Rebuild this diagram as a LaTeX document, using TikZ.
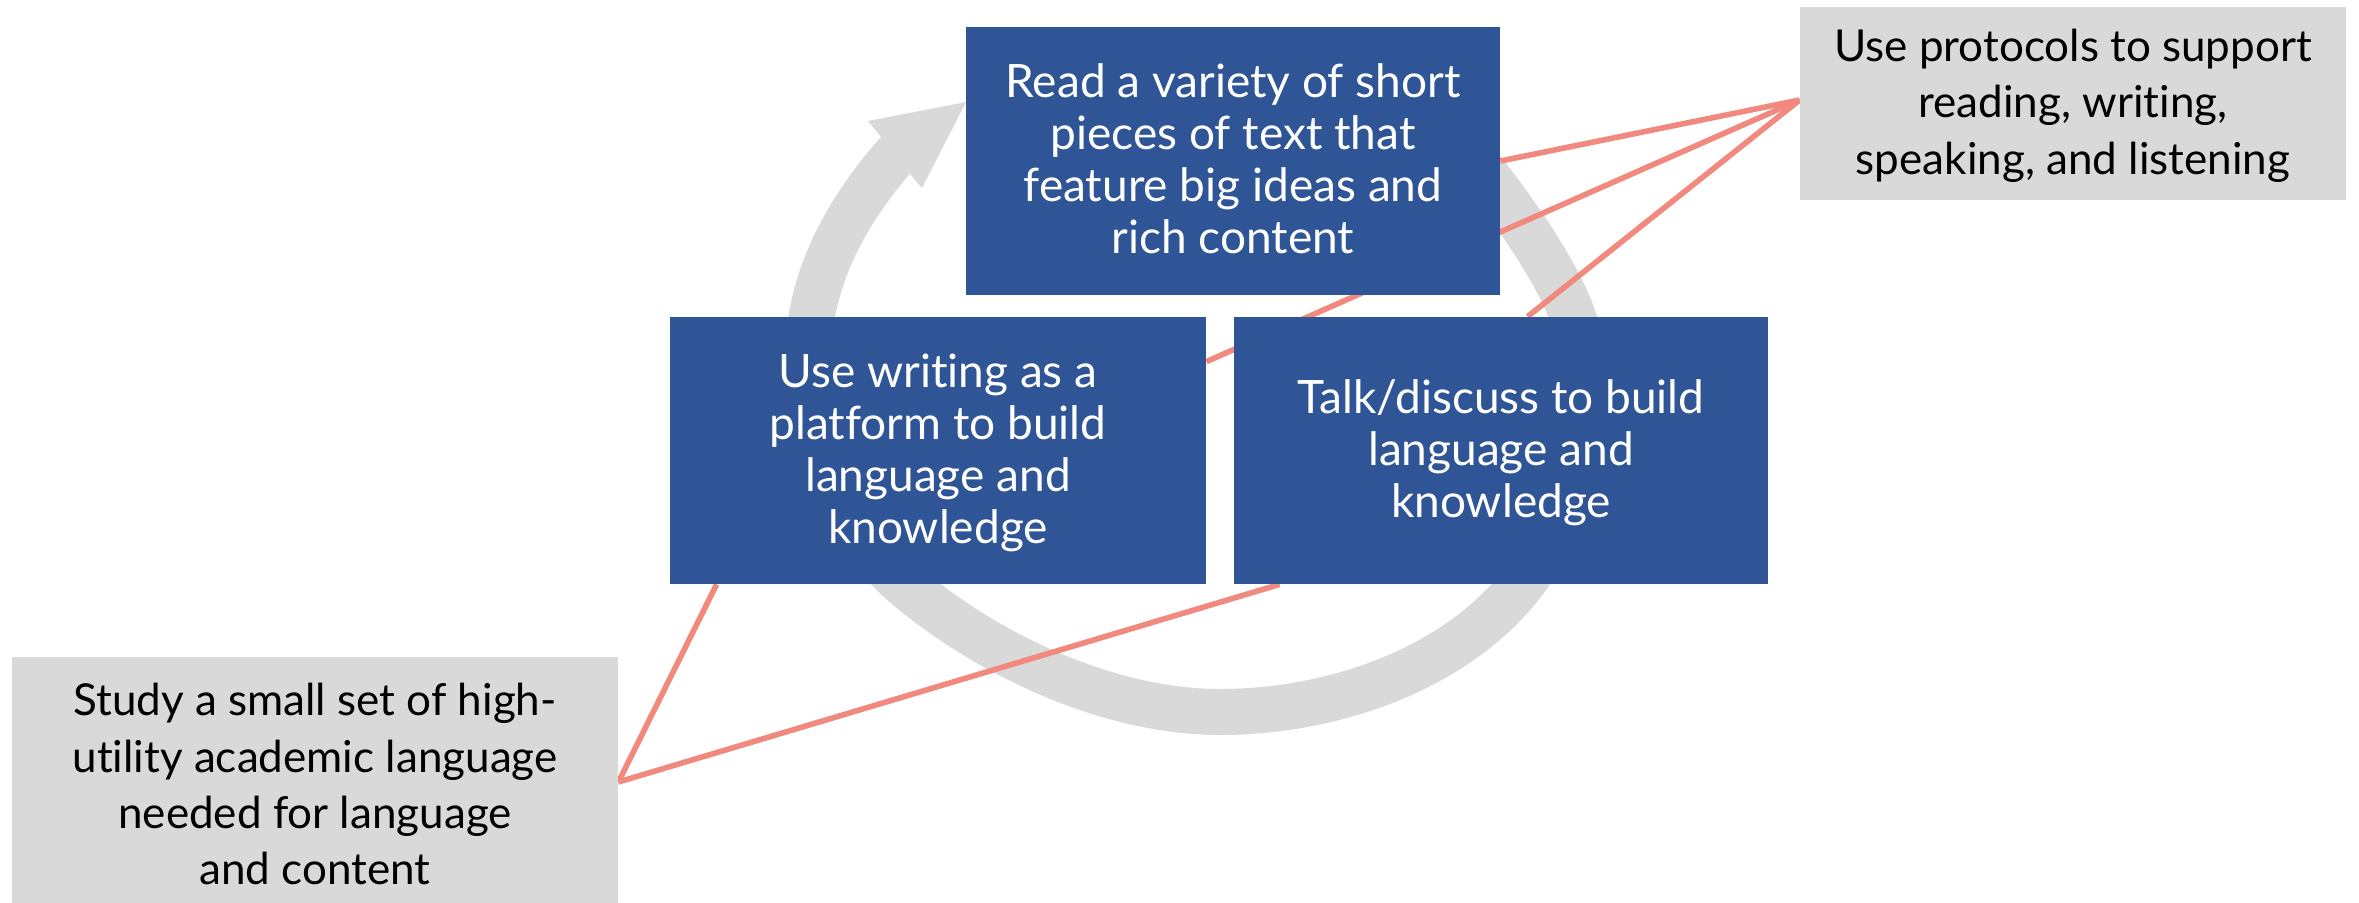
\documentclass[tikz,border=0pt]{standalone}
\usepackage{fontspec}
\setmainfont{Lato}[Ligatures=NoCommon]

\definecolor{boxblue}{RGB}{47,85,151}
\definecolor{ringgray}{RGB}{217,217,217}
\definecolor{linkred}{RGB}{241,137,127}

\pgfdeclarelayer{ring}
\pgfdeclarelayer{links}
\pgfsetlayers{ring,links,main}

% centred lines, set a little lower than the box centre
\newcommand{\boxlines}[2][2.25pt]{\raisebox{-#1}[\height][\depth]{\begin{tabular}{@{}c@{}}#2\end{tabular}}}

\tikzset{
  bluebox/.style={fill=boxblue, text=white, inner sep=0pt,
    font=\fontsize{23pt}{26pt}\selectfont},
  graybox/.style={fill=ringgray, text=black, inner sep=0pt,
    font=\fontsize{22pt}{28.2pt}\selectfont},
  link/.style={draw=linkred, line width=2.8pt},
  ringband/.style={draw=ringgray, line width=23pt},
}

\begin{document}
\begin{tikzpicture}[x=0.5pt, y=-0.5pt]
\useasboundingbox (0,0) rectangle (2359,903);

% boxes
\node[bluebox, minimum width=267pt, minimum height=134pt] (read) at (1233,161)
  {\boxlines{Read a variety of short\\pieces of text that\\feature big ideas and\\rich content}};
\node[bluebox, minimum width=268pt, minimum height=133.5pt] (write) at (938,450.5)
  {\boxlines{Use writing as a\\platform to build\\language and\\knowledge}};
\node[bluebox, minimum width=267pt, minimum height=133.5pt] (talk) at (1501,450.5)
  {\boxlines{Talk/discuss to build\\language and\\knowledge}};
\node[graybox, minimum width=273pt, minimum height=96.5pt] (protocols) at (2073,103.5)
  {\boxlines[1.5pt]{Use protocols to support\\reading, writing,\\speaking, and listening}};
\node[graybox, minimum width=303pt, minimum height=129pt] (study) at (315,786)
  {\boxlines[1.5pt]{Study a small set of high-\\utility academic language\\needed for language\\and content}};

% cycle arrow behind the boxes
\begin{pgfonlayer}{ring}
\draw[ringband] (1450,130)
  .. controls (1500,190) and (1555,265) .. (1573,317)
  .. controls (1600,390) and (1583,507) .. (1521,585)
  .. controls (1453,671) and (1330,712) .. (1220,712)
  .. controls (1110,712) and (989,656) .. (905,585)
  .. controls (844,533) and (808,440) .. (808,360)
  .. controls (808,280) and (845,212) .. (900,150);
\fill[ringgray] (881,137) -- (868,121) -- (966,102) -- (922,188) -- (909,173) -- cycle;
\end{pgfonlayer}

% connectors
\coordinate (hubR) at ([yshift=1.75pt]protocols.west);
\coordinate (hubL) at ([yshift=2pt]study.east);
\begin{pgfonlayer}{links}
\draw[link] (hubR) -- (read.east);
\draw[link] (hubR) -- ([yshift=-22.5pt]write.north east);
\draw[link] (hubR) -- ([xshift=147pt]talk.north west);
\draw[link] (hubL) -- ([xshift=23.5pt]write.south west);
\draw[link] (hubL) -- ([xshift=23pt]talk.south west);
\end{pgfonlayer}
\end{tikzpicture}
\end{document}
